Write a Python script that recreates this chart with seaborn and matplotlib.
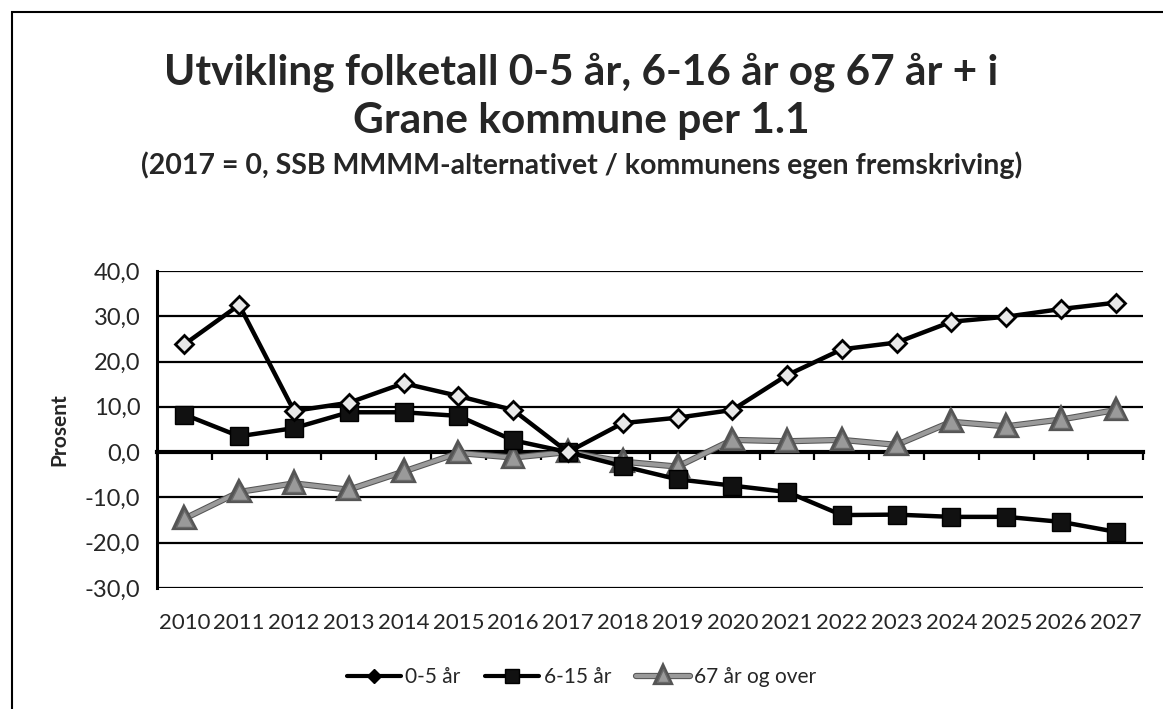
import numpy as np
import pandas as pd
import matplotlib
matplotlib.use("Agg")
import matplotlib.pyplot as plt
import matplotlib.patheffects as pe
from matplotlib.patches import Rectangle
from matplotlib.lines import Line2D
import seaborn as sns

# ── Data ──────────────────────────────────────────────────────────────────
years = list(range(2010, 2028))
age_0_5 = [23.8, 32.5, 9.1, 10.9, 15.2, 12.4, 9.3, 0.0, 6.4, 7.6,
           9.3, 17.0, 22.7, 24.2, 28.8, 29.9, 31.6, 33.0]
age_6_15 = [8.3, 3.5, 5.3, 8.8, 8.8, 8.0, 2.6, 0.0, -3.1, -6.0,
            -7.4, -8.8, -13.9, -13.8, -14.3, -14.3, -15.4, -17.6]
age_67 = [-14.7, -8.8, -6.9, -8.3, -4.3, -0.2, -1.2, 0.0, -2.1, -3.2,
          2.7, 2.4, 2.7, 1.6, 6.7, 5.7, 7.2, 9.3]
series_labels = ["0-5 år", "6-15 år", "67 år og over"]
y_ticks = [-30, -20, -10, 0, 10, 20, 30, 40]

df = pd.DataFrame({"year": years,
                   series_labels[0]: age_0_5,
                   series_labels[1]: age_6_15,
                   series_labels[2]: age_67})

# style per series: (line colour, marker, marker size, face colour, edge colour)
styles = {
    series_labels[0]: ("black", "D", 9, "#e8e8e8", "black"),
    series_labels[1]: ("black", "s", 13, "#111111", "black"),
    series_labels[2]: ("#9a9a9a", "^", 12, "#9a9a9a", "#6a6a6a"),
}
grey_fx = [pe.Stroke(linewidth=4.5, foreground="#555555"), pe.Normal()]

sns.set_style("white")
plt.rcParams["font.family"] = ["Lato", "DejaVu Sans"]

fig = plt.figure(figsize=(11.63, 7.09), dpi=100)
ax = fig.add_axes([0.135, 0.1707, 0.848, 0.4471])

# outer chart frame (cut off at right/bottom like the scan)
fig.patches.append(Rectangle((12 / 1163, -0.05), 1.2, 1 - 12 / 709 + 0.05,
                             transform=fig.transFigure, fill=False,
                             edgecolor="black", linewidth=1.5, zorder=0))

# gridlines
for v in y_ticks:
    ax.axhline(v, color="black", linewidth=1.6, zorder=1)

# series (grey drawn first, diamonds on top)
for z, name in zip([5, 4, 3], series_labels):
    col, mk, ms, fc, ec = styles[name]
    sns.lineplot(data=df, x="year", y=name, ax=ax, color=col,
                 linewidth=3.2 if col == "black" else 3, marker=mk, markersize=ms,
                 markerfacecolor=fc, markeredgecolor=ec,
                 markeredgewidth=2 if mk == "D" else 1, zorder=z,
                 path_effects=grey_fx if col != "black" else None)

ax.set_xlim(years[0] - 0.5, years[-1] + 0.5)
ax.set_ylim(y_ticks[0], y_ticks[-1])
ax.set_yticks(y_ticks)
ax.set_yticklabels([f"{v:.1f}".replace(".", ",") for v in y_ticks], fontsize=17)
ax.set_xticks(years)
ax.set_xticklabels([str(y) for y in years], fontsize=16)
ax.tick_params(axis="x", length=0, pad=18)
ax.tick_params(axis="y", direction="out", length=7, width=1.6, color="black", pad=5)

for s in ["top", "right", "bottom"]:
    ax.spines[s].set_visible(False)
ax.spines["left"].set_color("black")
ax.spines["left"].set_linewidth(2.2)

# category axis crossing at zero with boundary tick marks
zero_frac = (0 - y_ticks[0]) / (y_ticks[-1] - y_ticks[0])
sec = ax.secondary_xaxis(zero_frac)
sec.set_xticks([y - 0.5 for y in years] + [years[-1] + 0.5])
sec.set_xticklabels([])
sec.tick_params(direction="out", length=6, width=1.6, color="black")
sec.spines["bottom"].set_linewidth(3)
sec.spines["bottom"].set_color("black")

ax.set_xlabel("")
ax.set_ylabel("Prosent", fontsize=15, fontweight="bold", labelpad=11)

# legend with smaller markers, like the original
handles = []
for name in series_labels:
    col, mk, ms, fc, ec = styles[name]
    handles.append(Line2D([], [], color=col, linewidth=3, marker=mk,
                          markersize=ms * 0.75, markerfacecolor=ec if mk == "D" else fc,
                          markeredgecolor=ec,
                          path_effects=grey_fx if col != "black" else None))
fig.legend(handles, series_labels, loc="center",
           bbox_to_anchor=(0.5, 1 - 677 / 709), ncol=3, frameon=False,
           fontsize=15, handlelength=2.6, columnspacing=1.2, handletextpad=0.2)

fig.text(0.5, 1 - 72 / 709, "Utvikling folketall 0-5 år, 6-16 år og 67 år + i",
         ha="center", va="center", fontsize=30.5, fontweight="bold")
fig.text(0.5, 1 - 121 / 709, "Grane kommune per 1.1",
         ha="center", va="center", fontsize=30.5, fontweight="bold")
fig.text(0.5, 1 - 165 / 709,
         "(2017 = 0, SSB MMMM-alternativet / kommunens egen fremskriving)",
         ha="center", va="center", fontsize=20.5, fontweight="bold")

fig.savefig("out.png", dpi=100)
